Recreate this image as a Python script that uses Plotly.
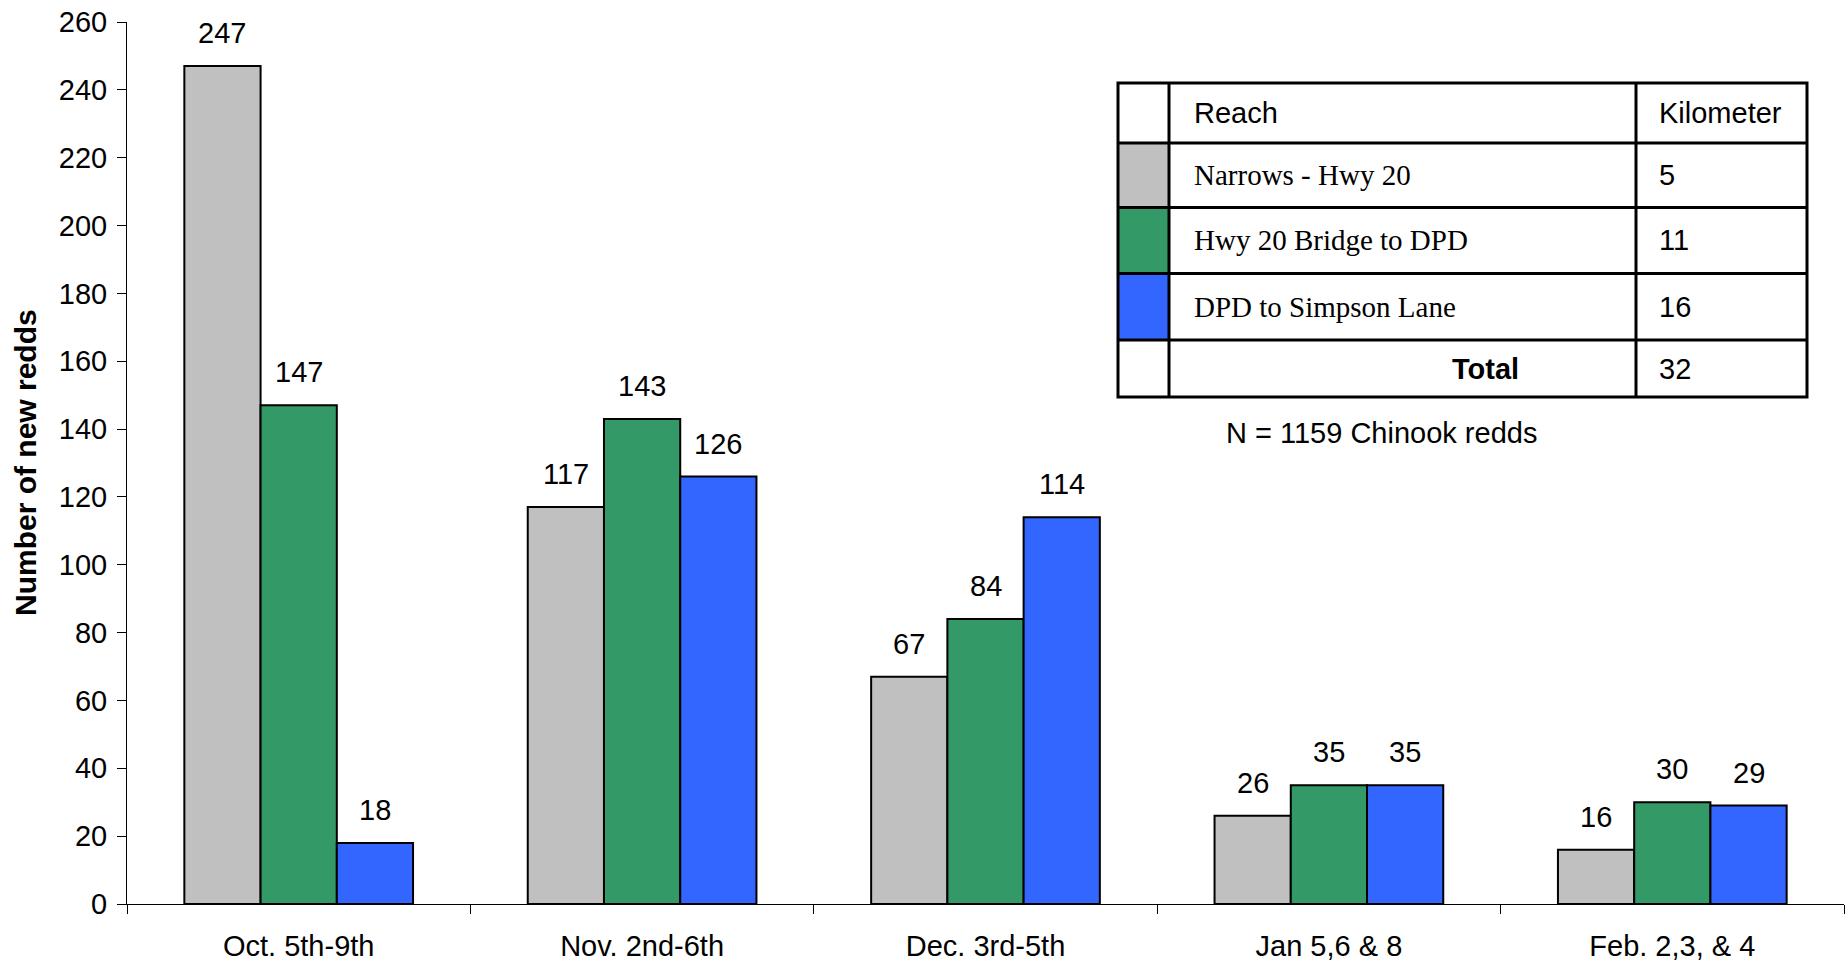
import plotly.graph_objects as go

# Survey periods and new redd counts per reach
periods = ["Oct. 5th-9th", "Nov. 2nd-6th", "Dec. 3rd-5th", "Jan 5,6 & 8", "Feb. 2,3, & 4"]
narrows_hwy20 = [247, 117, 67, 26, 16]
hwy20_to_dpd = [147, 143, 84, 35, 30]
dpd_to_simpson = [18, 126, 114, 35, 29]

# Reach table contents
reach_names = ["Narrows - Hwy 20", "Hwy 20 Bridge to DPD", "DPD to Simpson Lane"]
reach_km = [5, 11, 16]
total_km = 32
total_redds = 1159
reach_colors = ["#C0C0C0", "#339966", "#3366FF"]

y_ticks = list(range(0, 261, 20))

# Page / plot geometry (pixels)
W, H = 1848, 962
ML, MR, MT, MB = 127, 4, 22, 58
PW = W - ML - MR
PH = H - MT - MB
BARGAP = 0.334

SANS = "Liberation Sans, Arial, sans-serif"
SERIF = "Liberation Serif, Times New Roman, serif"
FS = 29


def px_x(px):
    return (px - ML) / PW


def px_y(py):
    return (H - MB - py) / PH


series = [narrows_hwy20, hwy20_to_dpd, dpd_to_simpson]

fig = go.Figure()
for name, vals, col in zip(reach_names, series, reach_colors):
    fig.add_trace(go.Bar(
        x=periods, y=vals, name=name,
        marker=dict(color=col, line=dict(color="black", width=2)),
        showlegend=False,
    ))

# Value labels above each bar
bar_w = (1 - BARGAP) / len(series)
annotations = []
for j, vals in enumerate(series):
    for i, v in enumerate(vals):
        annotations.append(dict(
            x=i + (j - (len(series) - 1) / 2) * bar_w, y=v, xref="x", yref="y",
            text=str(v), showarrow=False, yanchor="bottom", yshift=15,
            font=dict(family=SANS, size=FS, color="black"),
        ))

# Y axis title
annotations.append(dict(
    x=0, y=0.5, xref="paper", yref="paper", xshift=-102,
    text="<b>Number of new redds</b>", textangle=-90, showarrow=False,
    xanchor="center", yanchor="middle",
    font=dict(family=SANS, size=30, color="black"),
))

# Reach table drawn with shapes
col_edges = [1118, 1169, 1636, 1807]
row_edges = [83, 143, 207.5, 273.5, 340, 397]
shapes = []
for k, col in enumerate(reach_colors):
    shapes.append(dict(
        type="rect", xref="paper", yref="paper",
        x0=px_x(col_edges[0]), x1=px_x(col_edges[1]),
        y0=px_y(row_edges[k + 2]), y1=px_y(row_edges[k + 1]),
        fillcolor=col, line=dict(width=0), layer="above",
    ))
shapes.append(dict(
    type="rect", xref="paper", yref="paper",
    x0=px_x(col_edges[0]), x1=px_x(col_edges[-1]),
    y0=px_y(row_edges[-1]), y1=px_y(row_edges[0]),
    line=dict(color="black", width=3), layer="above",
))
for cx in col_edges[1:-1]:
    shapes.append(dict(
        type="line", xref="paper", yref="paper",
        x0=px_x(cx), x1=px_x(cx), y0=px_y(row_edges[-1]), y1=px_y(row_edges[0]),
        line=dict(color="black", width=3), layer="above",
    ))
for ry in row_edges[1:-1]:
    shapes.append(dict(
        type="line", xref="paper", yref="paper",
        x0=px_x(col_edges[0]), x1=px_x(col_edges[-1]), y0=px_y(ry), y1=px_y(ry),
        line=dict(color="black", width=3), layer="above",
    ))


def row_mid(k):
    return px_y((row_edges[k] + row_edges[k + 1]) / 2)


text_x = px_x(1192)
km_x = px_x(1657)


def cell(x, y, text, family=SANS, xanchor="left"):
    return dict(x=x, y=y, xref="paper", yref="paper", text=text, showarrow=False,
                xanchor=xanchor, yanchor="middle",
                font=dict(family=family, size=FS, color="black"))


annotations.append(cell(text_x, row_mid(0), "Reach"))
annotations.append(cell(km_x, row_mid(0), "Kilometer"))
for k, (nm, km) in enumerate(zip(reach_names, reach_km)):
    annotations.append(cell(text_x, row_mid(k + 1), nm, family=SERIF))
    annotations.append(cell(km_x, row_mid(k + 1), str(km)))
annotations.append(cell(px_x(1521), row_mid(4), "<b>Total</b>", xanchor="right"))
annotations.append(cell(km_x, row_mid(4), str(total_km)))
annotations.append(cell(px_x(1381), px_y(433), f"N = {total_redds} Chinook redds",
                        xanchor="center"))

fig.update_layout(
    width=W, height=H,
    margin=dict(l=ML, r=MR, t=MT, b=MB),
    paper_bgcolor="white", plot_bgcolor="white",
    barmode="group", bargap=BARGAP, bargroupgap=0,
    font=dict(family=SANS, size=FS, color="black"),
    xaxis=dict(
        type="category", showgrid=False, zeroline=False, automargin=False,
        showline=True, linecolor="black", linewidth=1,
        ticks="outside", tickson="boundaries", ticklen=9, tickcolor="black",
        tickfont=dict(family=SANS, size=FS, color="black"),
        ticklabelstandoff=16,
    ),
    yaxis=dict(
        range=[0, 260], tickvals=y_ticks, showgrid=False, zeroline=False,
        automargin=False,
        showline=True, linecolor="black", linewidth=1,
        ticks="outside", ticklen=9, tickcolor="black",
        tickfont=dict(family=SANS, size=FS, color="black"),
        ticklabelstandoff=4,
    ),
    annotations=annotations,
    shapes=shapes,
)

fig.write_html("out.html")
